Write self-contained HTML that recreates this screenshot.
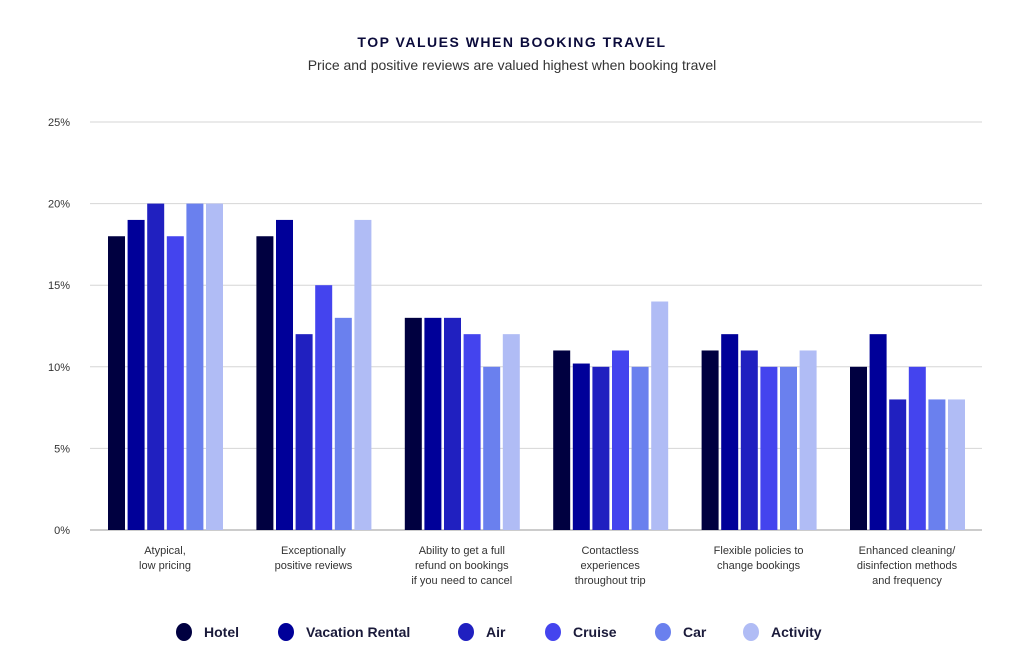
<!DOCTYPE html>
<html><head><meta charset="utf-8"><style>
body{margin:0;background:#fff;width:1024px;height:659px;overflow:hidden;font-family:"Liberation Sans",sans-serif}
</style></head><body>
<svg id="chart" width="1024" height="659" xmlns="http://www.w3.org/2000/svg">
<text x="512" y="47" text-anchor="middle" font-size="14" font-weight="bold" letter-spacing="1.5" fill="#0b0b3b">TOP VALUES WHEN BOOKING TRAVEL</text>
<text x="512" y="70" text-anchor="middle" font-size="14" fill="#333">Price and positive reviews are valued highest when booking travel</text>
<g id="grid"></g><g id="bars"></g><g id="xl"></g><g id="legend"></g>
</svg>
<script>
const categories=[["Atypical,","low pricing"],["Exceptionally","positive reviews"],["Ability to get a full","refund on bookings","if you need to cancel"],["Contactless","experiences","throughout trip"],["Flexible policies to","change bookings"],["Enhanced cleaning/","disinfection methods","and frequency"]];
const seriesNames=["Hotel","Vacation Rental","Air","Cruise","Car","Activity"];
const hotel=[18,18,13,11,11,10];
const vacationRental=[19,19,13,10.2,12,12];
const air=[20,12,13,10,11,8];
const cruise=[18,15,12,11,10,10];
const car=[20,13,10,10,10,8];
const activity=[20,19,12,14,11,8];
const tickLabels=["0%","5%","10%","15%","20%","25%"];
const tickValues=[0,5,10,15,20,25];
const series=[hotel,vacationRental,air,cruise,car,activity];
const colors=["#000040","#000099","#2020c0","#4444ee","#6a80ee","#b0bcf5"];
const NS="http://www.w3.org/2000/svg";
const y=v=>530-v*(408/25);
const gx=i=>108+i*148.4;
function mk(t,a,p){const e=document.createElementNS(NS,t);for(const k in a)e.setAttribute(k,a[k]);p.appendChild(e);return e;}
const grid=document.getElementById('grid');
tickValues.forEach((v,i)=>{
 const l=mk('line',{x1:90,x2:982,y1:y(v),y2:y(v),stroke:v===0?'#999':'#d6d6d6','stroke-width':1},grid);
 
 
 const t=mk('text',{x:70,y:y(v)+4,'text-anchor':'end','font-size':11,fill:'#333'},grid);
 t.textContent=tickLabels[i];
 
 
});
const bars=document.getElementById('bars');
series.forEach((s,si)=>s.forEach((v,ci)=>{
 const r=mk('rect',{x:gx(ci)+si*19.6,y:y(v),width:17,height:530-y(v),fill:colors[si]},bars);
 
 
}));
const xl=document.getElementById('xl');
categories.forEach((c,ci)=>{
 const t=mk('text',{x:gx(ci)+57,y:554,'text-anchor':'middle','font-size':11,fill:'#333'},xl);
 
 
 c.forEach((ln,k)=>{const s=mk('tspan',{x:gx(ci)+57,dy:k?15:0},t);s.textContent=ln;});
});
const lg=document.getElementById('legend');
const lx=[184,286,466,553,663,751];
seriesNames.forEach((n,i)=>{
 const g=mk('g',{},lg);
 
 
 mk('ellipse',{cx:lx[i],cy:632,rx:8,ry:9,fill:colors[i]},g);
 const t=mk('text',{x:lx[i]+20,y:637,'font-size':14,'font-weight':'bold',fill:'#1a1a3a'},g);
 t.textContent=n;
});
</script>
</body></html>
